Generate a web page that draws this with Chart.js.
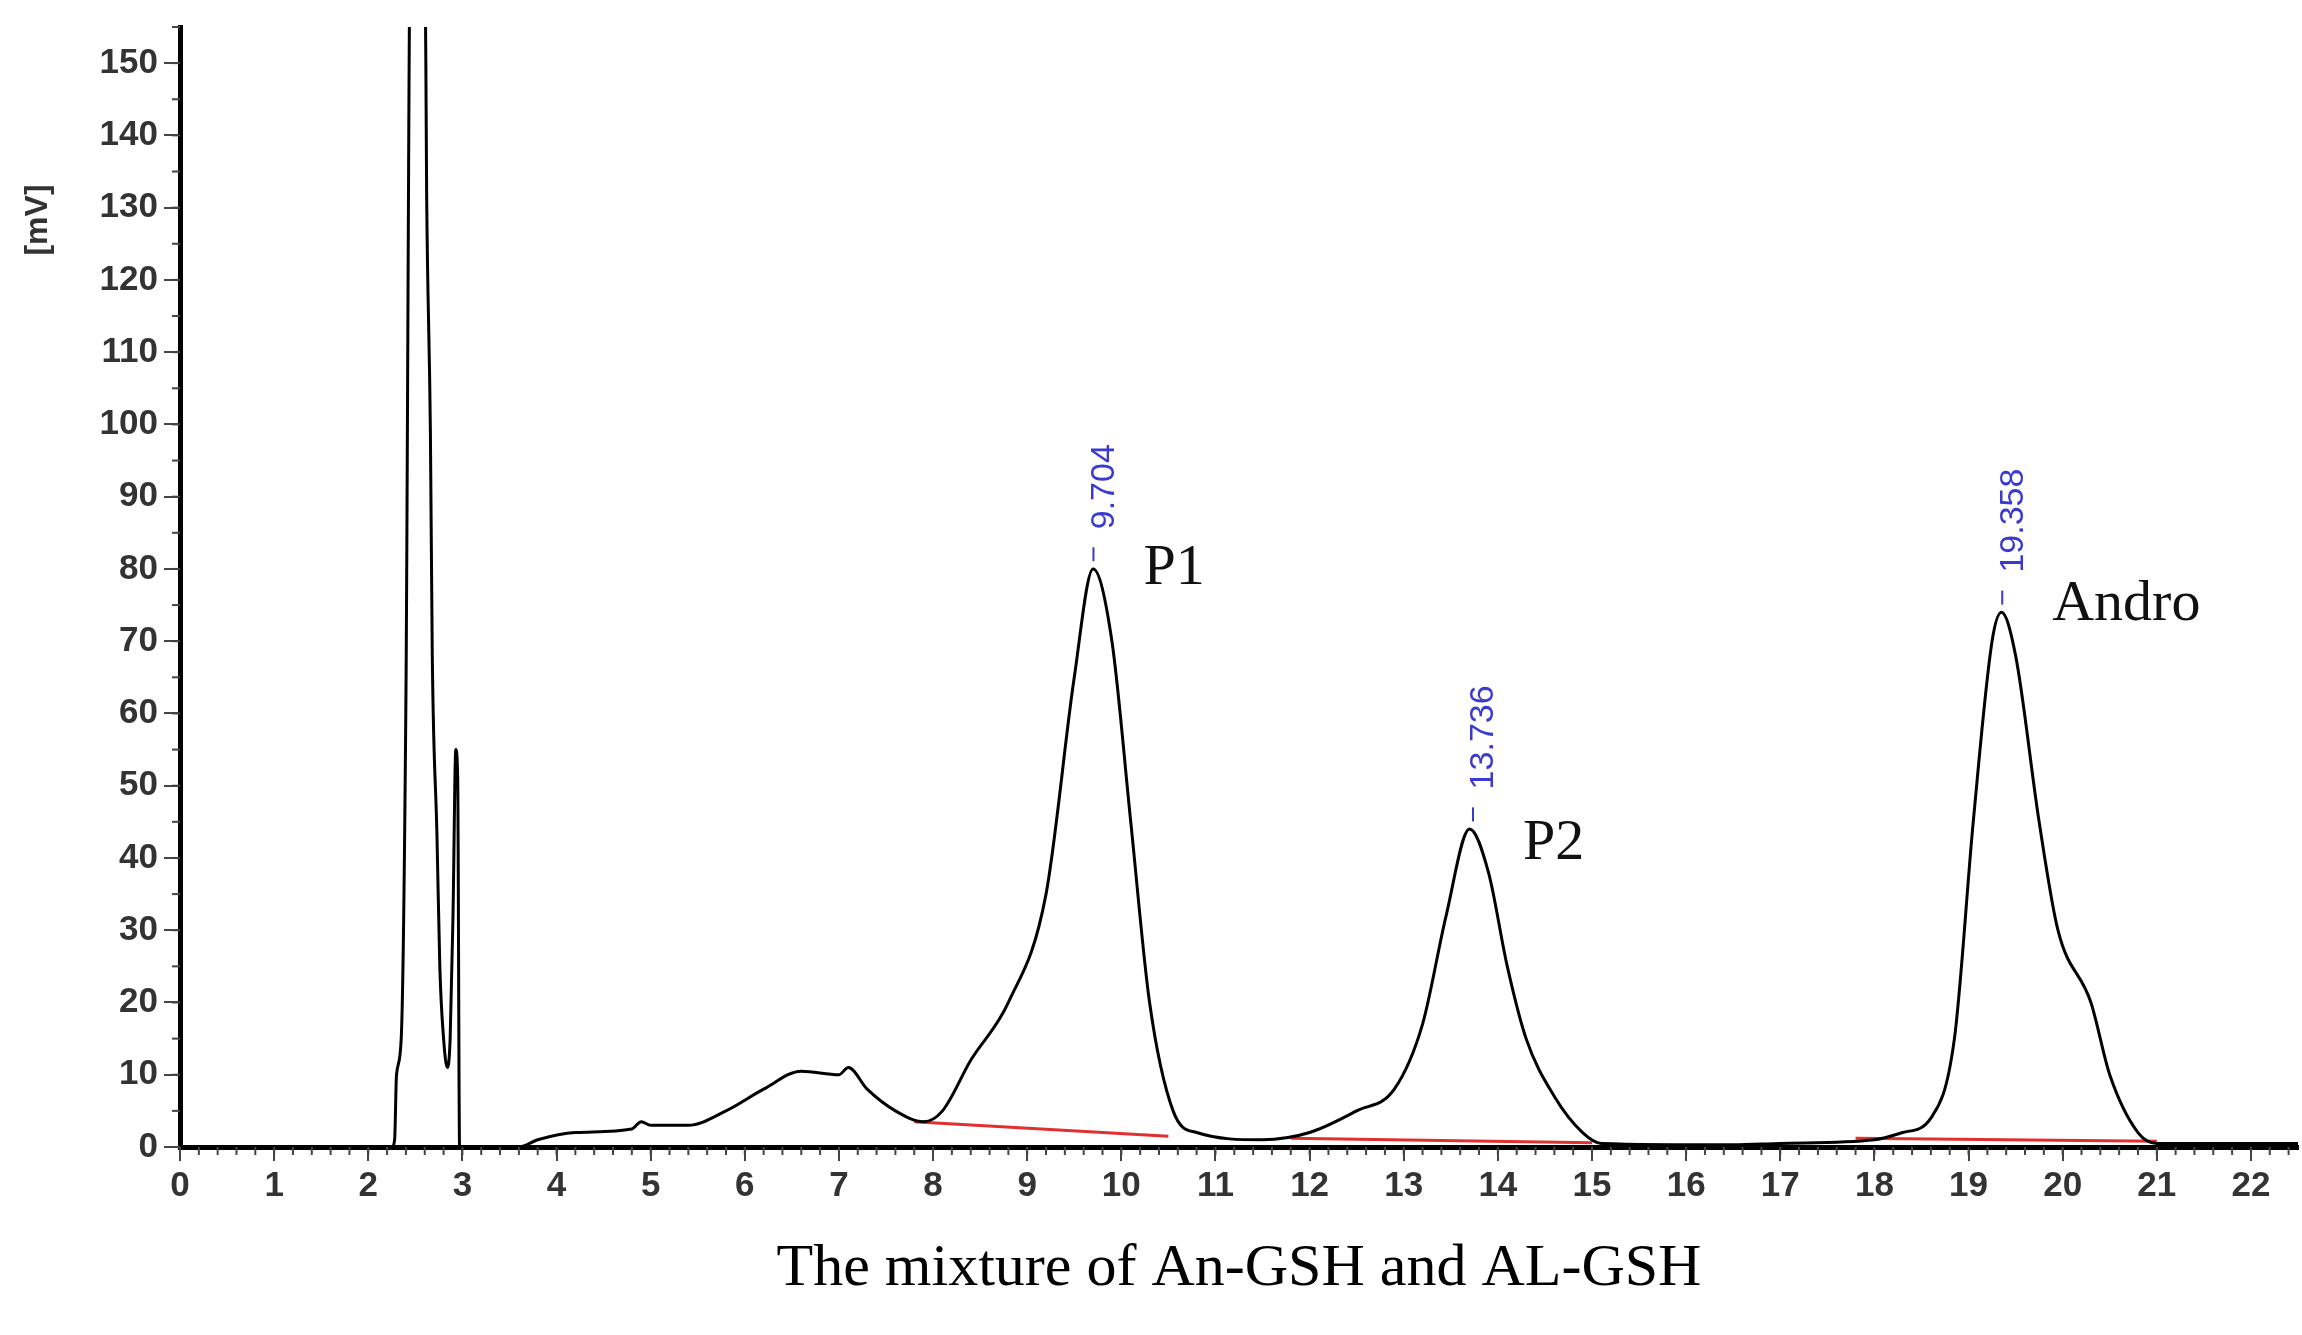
<!DOCTYPE html>
<html><head><meta charset="utf-8">
<script src="https://cdn.jsdelivr.net/npm/chart.js@4"></script>
<style>html,body{margin:0;padding:0;background:#fff}#w{width:2302px;height:1335px}</style>
</head><body><div id="w"><canvas id="c"></canvas></div>
<script>
const traceX = [0,2.25,2.28,2.3,2.35,2.4,2.45,2.6,2.62,2.66,2.68,2.73,2.76,2.8,2.84,2.87,2.9,2.93,2.95,2.97,3.0,3.6,3.8,4.2,4.8,4.9,5.0,5.4,5.8,6.2,6.6,7.0,7.1,7.3,7.6,7.9,8.1,8.4,8.8,9.2,9.5,9.7,9.9,10.1,10.3,10.55,10.8,11.5,12.0,12.5,12.9,13.2,13.45,13.7,13.9,14.1,14.3,14.6,14.9,15.1,16.5,17,18,18.3,18.6,18.85,19.05,19.25,19.35,19.5,19.75,19.95,20.3,20.5,20.8,21,22.5];
const traceY = [0,0,1,10,15,62,170,170,132,99,68,43,25,15,11,15,32,55,51,0,0,0,1,2,2.5,3.5,3,3,5,8,10.5,10,11,8,5,3.5,5,12,20,35,65,80,70,45,20,5,2,1,2,5,8,17,32,44,38,25,15,7,2,0.5,0.3,0.5,1,2,4,15,45,70,74,68,45,30,20,10,2,0.5,0.5];
const baseX = [7.8,10.5,null,11.8,15,null,17.8,21];
const baseY = [3.5,1.5,null,1.2,0.6,null,1.2,0.8];
const peakTimes = [9.704,13.736,19.358];
const peakLabels = ["9.704","13.736","19.358"];
const peakTops = [83,47,77];
const compNames = ["P1","P2","Andro"];
const compY = [80,42,75];
const xTickValues = [0,1,2,3,4,5,6,7,8,9,10,11,12,13,14,15,16,17,18,19,20,21,22];
const yTickValues = [0,10,20,30,40,50,60,70,80,90,100,110,120,130,140,150];
const xTitle = "The mixture of An-GSH and AL-GSH";

const pts = traceX.map((x,i)=>({x, y: traceY[i]}));
const bpts = baseX.map((x,i)=>x===null?{x:null,y:null}:({x, y: baseY[i]}));

const deco = {
  id:'deco',
  afterDraw(ch){
    const c=ch.ctx, xs=ch.scales.x, ys=ch.scales.y, a=ch.chartArea;
    c.save();
    c.strokeStyle='#444'; c.lineWidth=2;
    for(let v=0; v<=22.5; v+=0.2){ const p=xs.getPixelForValue(v); c.beginPath(); c.moveTo(p,a.bottom); c.lineTo(p,a.bottom+8); c.stroke(); }
    for(let v=0; v<=155; v+=5){ const p=ys.getPixelForValue(v); c.beginPath(); c.moveTo(a.left,p); c.lineTo(a.left-8,p); c.stroke(); }
    peakTimes.forEach((t,i)=>{
      const px=xs.getPixelForValue(t), py=ys.getPixelForValue(peakTops[i]);
      c.strokeStyle='#3a3ad0'; c.lineWidth=2;
      c.beginPath(); c.moveTo(px,py); c.lineTo(px,py+14); c.stroke();
      c.save(); c.translate(px+11, py-18); c.rotate(-Math.PI/2);
      c.fillStyle='#3a3ad0'; c.font='34px "Liberation Sans", Arial'; c.textAlign='left'; c.textBaseline='middle';
      c.fillText(peakLabels[i],0,0); c.restore();
      c.fillStyle='#111'; c.font='58px "Liberation Serif", "Times New Roman"'; c.textAlign='left'; c.textBaseline='middle';
      c.fillText(compNames[i], px+50, ys.getPixelForValue(compY[i]));
    });
    c.save(); c.translate(38, 220); c.rotate(-Math.PI/2);
    c.fillStyle='#333'; c.font='bold 32px "Liberation Sans", Arial'; c.textAlign='center'; c.textBaseline='middle';
    c.fillText('[mV]',0,0); c.restore();
    c.restore();
  }
};

new Chart(document.getElementById('c'),{
  type:'scatter',
  data:{datasets:[
    {data:bpts, showLine:true, borderColor:'#e03030', borderWidth:3, pointRadius:0, spanGaps:false, order:2},
    {data:pts, showLine:true, borderColor:'#000', borderWidth:3, pointRadius:0, cubicInterpolationMode:'monotone', order:1}
  ]},
  options:{
    responsive:true, maintainAspectRatio:false, animation:false,
    layout:{padding:{top:0,right:4,left:0,bottom:30}},
    plugins:{legend:{display:false},tooltip:{enabled:false}},
    scales:{
      x:{type:'linear',min:0,max:22.5,
        afterBuildTicks(s){s.ticks=xTickValues.map(v=>({value:v}));},
        border:{color:'#000',width:5},
        grid:{display:true,drawOnChartArea:false,tickLength:14,color:'#444',lineWidth:2},
        ticks:{autoSkip:false,maxRotation:0,color:'#333',font:{family:'"Liberation Sans", Arial',size:35,weight:'bold'},padding:4},
        title:{display:true,text:xTitle,color:'#000',font:{family:'"Liberation Serif", "Times New Roman"',size:60},padding:{top:22,bottom:0}}
      },
      y:{min:0,max:155,
        afterBuildTicks(s){s.ticks=yTickValues.map(v=>({value:v}));},
        border:{color:'#000',width:5},
        grid:{display:true,drawOnChartArea:false,tickLength:16,color:'#444',lineWidth:2},
        ticks:{autoSkip:false,color:'#333',font:{family:'"Liberation Sans", Arial',size:35,weight:'bold'},padding:6},
        afterFit(s){s.width=180;}
      }
    }
  },
  plugins:[deco]
});
</script></body></html>
